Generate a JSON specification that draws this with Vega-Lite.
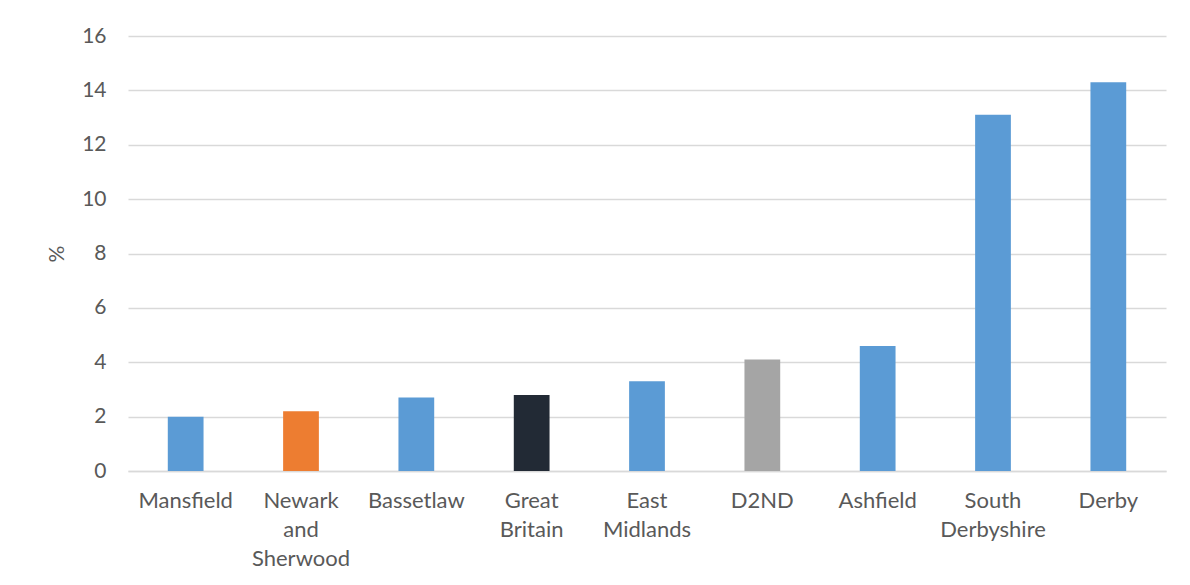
{
  "$schema": "https://vega.github.io/schema/vega-lite/v6.json",
  "width": 1038,
  "height": 435,
  "autosize": {"type": "none"},
  "padding": {"left": 128, "top": 36, "right": 24, "bottom": 114},
  "background": "white",
  "data": {
    "values": [
      {"area": "Mansfield", "pct": 2.0, "group": "district"},
      {"area": "Newark and Sherwood", "pct": 2.2, "group": "focus"},
      {"area": "Bassetlaw", "pct": 2.7, "group": "district"},
      {"area": "Great Britain", "pct": 2.8, "group": "national"},
      {"area": "East Midlands", "pct": 3.3, "group": "district"},
      {"area": "D2ND", "pct": 4.1, "group": "lep"},
      {"area": "Ashfield", "pct": 4.6, "group": "district"},
      {"area": "South Derbyshire", "pct": 13.1, "group": "district"},
      {"area": "Derby", "pct": 14.3, "group": "district"}
    ]
  },
  "mark": {"type": "bar"},
  "encoding": {
    "x": {
      "field": "area",
      "type": "nominal",
      "sort": null,
      "scale": {"paddingInner": 0.69, "paddingOuter": 0.345},
      "axis": {
        "title": null,
        "labelAngle": 0,
        "labelExpr": "split(datum.value, ' ')",
        "labelFont": "Lato",
        "labelFontSize": 22,
        "labelColor": "#595959",
        "labelPadding": 19,
        "labelLineHeight": 29,
        "ticks": false,
        "domainColor": "#D9D9D9",
        "domainWidth": 1.5,
        "grid": false
      }
    },
    "y": {
      "field": "pct",
      "type": "quantitative",
      "scale": {"domain": [0, 16], "nice": false},
      "axis": {
        "title": "%",
        "titleFont": "Lato",
        "titleFontSize": 21,
        "titleFontWeight": "normal",
        "titleColor": "#595959",
        "titlePadding": 14,
        "values": [0, 2, 4, 6, 8, 10, 12, 14, 16],
        "labelFont": "Lato",
        "labelFontSize": 21,
        "labelColor": "#595959",
        "labelPadding": 22,
        "ticks": false,
        "domain": false,
        "gridColor": "#D9D9D9",
        "gridWidth": 1.5
      }
    },
    "color": {
      "field": "group",
      "type": "nominal",
      "scale": {
        "domain": ["district", "focus", "national", "lep"],
        "range": ["#5B9BD5", "#ED7D31", "#222A35", "#A5A5A5"]
      },
      "legend": null
    }
  },
  "config": {"view": {"stroke": null}}
}
